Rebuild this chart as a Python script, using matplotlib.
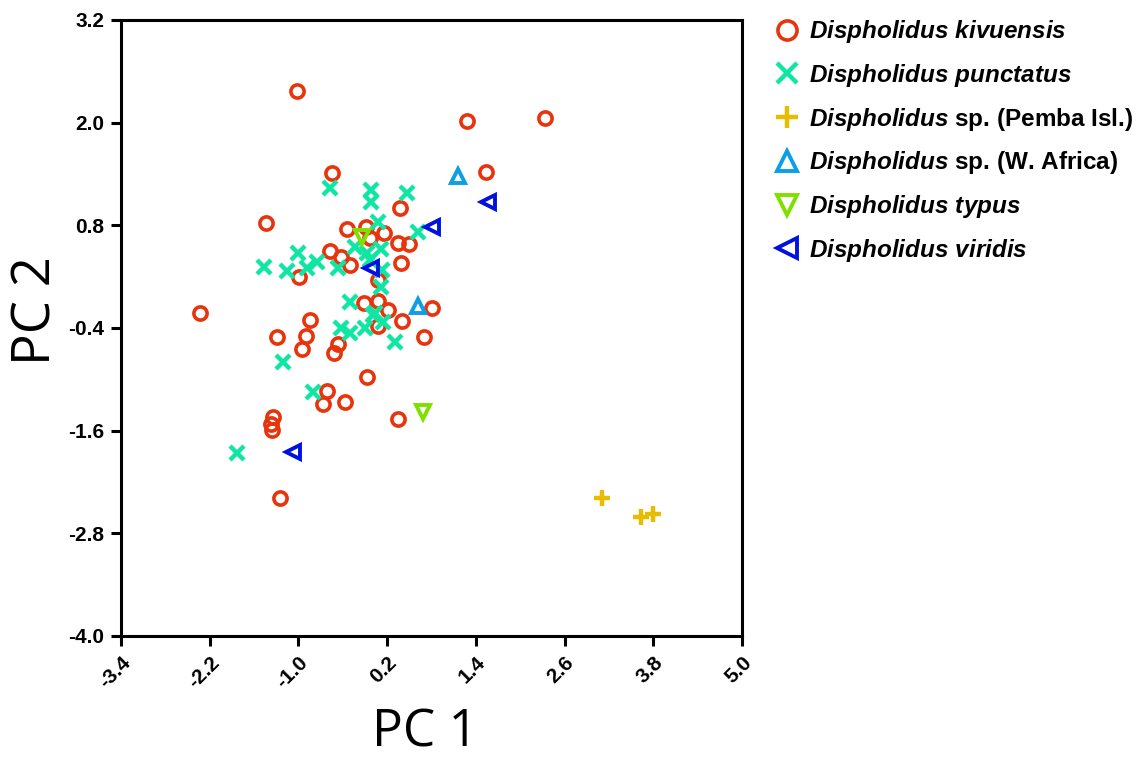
import matplotlib
matplotlib.use("Agg")
import matplotlib.pyplot as plt

# ===================== Data =====================
kivuensis_x = [-1.02, 1.28, 2.34, 1.53, -0.54, -1.44, 0.38, -2.33, -0.99, -0.34,
               -0.08, 0.16, 0.34, 0.50, -0.58, -0.42, -0.30, 0.39, -0.03, 0.08,
               -0.12, 0.08, 0.21, 0.40, 0.81, 0.70, -0.84, -0.90, -1.29, -0.95,
               -0.46, -0.52, 0.07, -0.07, -0.61, -0.67, -0.37, 0.35, -1.34, -1.37,
               -1.36, -1.25]
kivuensis_y = [2.37, 2.02, 2.05, 1.42, 1.41, 0.83, 1.00, -0.22, 0.20, 0.76,
               0.78, 0.71, 0.59, 0.58, 0.50, 0.43, 0.34, 0.36, 0.65, 0.16,
               -0.11, -0.08, -0.19, -0.32, -0.17, -0.51, -0.31, -0.49, -0.51, -0.65,
               -0.59, -0.69, -0.38, -0.97, -1.14, -1.29, -1.26, -1.46, -1.44, -1.52,
               -1.59, -2.39]

punctatus_x = [-0.58, -0.02, -0.02, 0.47, 0.08, 0.61, -0.23, -0.07, 0.11, -1.00,
               -0.75, -1.46, -1.15, -0.46, -0.88, 0.13, 0.11, -0.30, 0.01, 0.15,
               -0.43, -0.30, -0.10, 0.31, -1.21, -1.83, -0.80, 0.04, -0.03]
punctatus_y = [1.24, 1.21, 1.07, 1.18, 0.84, 0.72, 0.55, 0.48, 0.52, 0.48,
               0.37, 0.31, 0.27, 0.30, 0.30, 0.28, 0.08, -0.10, -0.25, -0.33,
               -0.40, -0.46, -0.40, -0.56, -0.80, -1.86, -1.15, -0.22, 0.40]

pemba_x = [3.11, 3.63, 3.80]
pemba_y = [-2.39, -2.61, -2.57]

wafrica_x = [1.16, 0.62]
wafrica_y = [1.38, -0.14]

typus_x = [-0.14, 0.68]
typus_y = [0.66, -1.38]

viridis_x = [1.57, 0.80, -0.02, -1.07]
viridis_y = [1.07, 0.78, 0.30, -1.85]

x_ticks = [-3.4, -2.2, -1.0, 0.2, 1.4, 2.6, 3.8, 5.0]
y_ticks = [-4.0, -2.8, -1.6, -0.4, 0.8, 2.0, 3.2]

# ===================== Style =====================
plt.rcParams.update({
    "font.family": "Liberation Sans",
    "mathtext.fontset": "custom",
    "mathtext.it": "Liberation Sans:bold:italic",
    "mathtext.rm": "Liberation Sans:bold",
})

series = [
    (kivuensis_x, kivuensis_y, "o", "#E8340C", r"$\it{Dispholidus\ kivuensis}$", 9.5, 2.6),
    (punctatus_x, punctatus_y, "x", "#10E6A4", r"$\it{Dispholidus\ punctatus}$", 10, 3.2),
    (pemba_x, pemba_y, "+", "#E8BC00", r"$\it{Dispholidus}$ sp. (Pemba Isl.)", 11, 3.2),
    (wafrica_x, wafrica_y, "^", "#0A9FE6", r"$\it{Dispholidus}$ sp. (W. Africa)", 10, 2.8),
    (typus_x, typus_y, "v", "#7FE000", r"$\it{Dispholidus\ typus}$", 10, 2.8),
    (viridis_x, viridis_y, "<", "#0010E0", r"$\it{Dispholidus\ viridis}$", 10, 2.8),
]

fig = plt.figure(figsize=(11.45, 7.62), dpi=100)
ax = fig.add_axes([0.1057, 0.1654, 0.5424, 0.8084])

handles = []
for xs, ys, m, c, lab, ms, mew in series:
    h, = ax.plot(xs, ys, linestyle="none", marker=m, markersize=ms,
                 markerfacecolor="none", markeredgecolor=c, markeredgewidth=mew,
                 label=lab)
    handles.append(h)

ax.set_xlim(-3.4, 5.0)
ax.set_ylim(-4.0, 3.2)
ax.set_xticks(x_ticks)
ax.set_yticks(y_ticks)
ax.set_xticklabels([f"{v:.1f}" for v in x_ticks], rotation=45, ha="right",
                   rotation_mode="anchor", fontweight="bold", fontsize=15)
ax.set_yticklabels([f"{v:.1f}" for v in y_ticks], fontweight="bold", fontsize=15)
ax.tick_params(direction="out", length=7, width=2.2, pad=5)
for s in ax.spines.values():
    s.set_linewidth(2.2)

ax.set_xlabel("PC 1", fontsize=37, family="Open Sans", va="center")
ax.set_ylabel("PC 2", fontsize=38, family="Open Sans", va="center")
ax.xaxis.set_label_coords(0.49, -0.158)
ax.yaxis.set_label_coords(-0.136, 0.529)

leg = fig.legend(handles=handles, loc="upper left", bbox_to_anchor=(0.668, 0.989),
                 frameon=False, fontsize=17.5, markerscale=1.45, handlelength=1.0,
                 handletextpad=0.4, labelspacing=0.69, borderaxespad=0)
for t in leg.get_texts():
    t.set_fontweight("bold")

fig.savefig("out.png", dpi=100)
